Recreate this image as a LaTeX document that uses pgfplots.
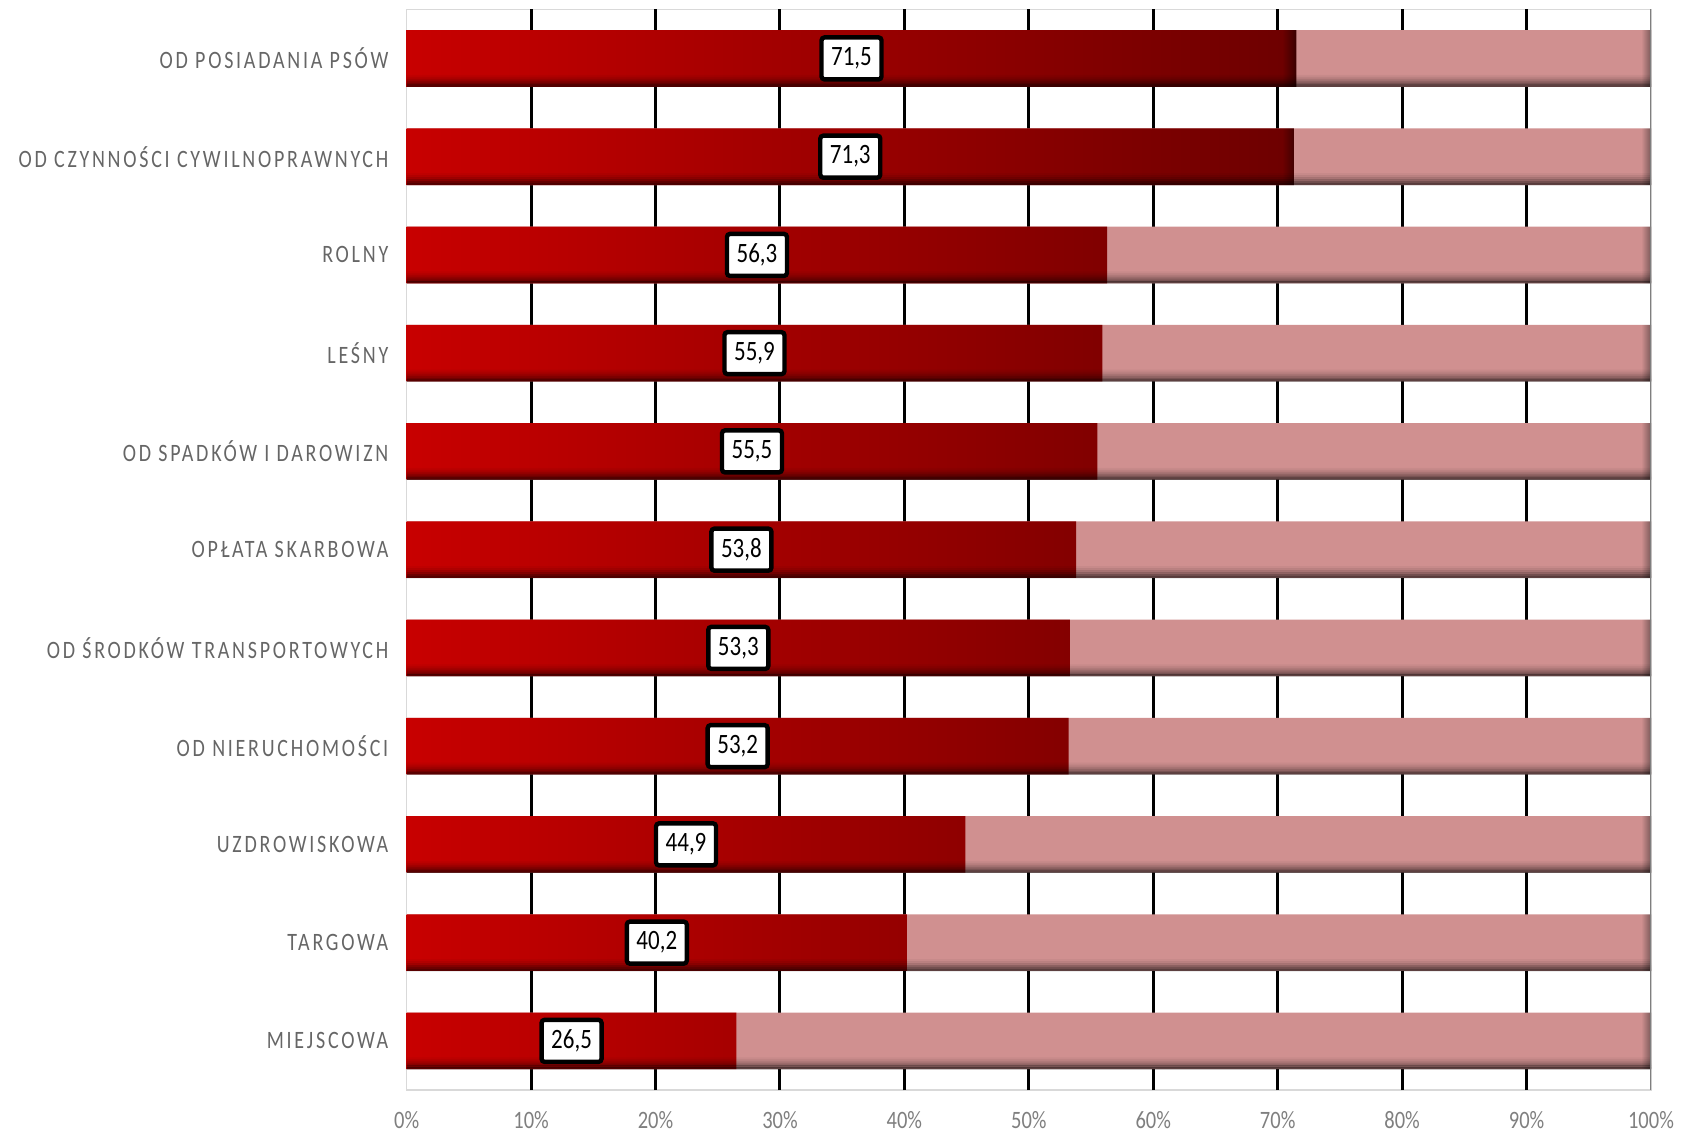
\documentclass[border=0pt]{standalone}
\usepackage{pgfplots}
\pgfplotsset{compat=1.18}
\usepackage{pgfplotstable}
\usepackage{fontspec}
\setmainfont{Carlito}
\newfontfamily\catfont[FakeStretch=0.8,LetterSpace=11]{Carlito}
\newfontfamily\numfont[FakeStretch=0.82]{Carlito}

\definecolor{redA}{HTML}{C80000}
\definecolor{redB}{HTML}{6E0000}
\definecolor{redC}{HTML}{380000}
\definecolor{pinkA}{HTML}{D09090}
\definecolor{pinkB}{HTML}{7A5858}
\definecolor{catgray}{HTML}{666666}
\definecolor{tickgray}{HTML}{7F7F7F}
\definecolor{framegray}{HTML}{D9D9D9}

\pgfdeclarehorizontalshading{redsh}{100bp}{color(0bp)=(redA); color(25bp)=(redA); color(74.2bp)=(redB); color(75bp)=(redC); color(100bp)=(redC)}
\pgfdeclarehorizontalshading{pinksh}{100bp}{color(0bp)=(pinkA); color(25bp)=(pinkA); color(74.6bp)=(pinkA); color(75bp)=(pinkB); color(100bp)=(pinkB)}

\pgfplotstableread{
y v total lbl
0 26.5 100 26,5
1 40.2 100 40,2
2 44.9 100 44,9
3 53.2 100 53,2
4 53.3 100 53,3
5 53.8 100 53,8
6 55.5 100 55,5
7 55.9 100 55,9
8 56.3 100 56,3
9 71.3 100 71,3
10 71.5 100 71,5
}\data

\pgfplotsset{shadowstrip/.style={xbar, bar width=0.021, bar shift=#1, draw=none, fill=black, forget plot}}

\begin{document}
\begin{tikzpicture}
\useasboundingbox (-203.35pt,-23pt) rectangle (637.65pt,545pt);
\begin{axis}[
  at={(0,0)}, anchor=south west, scale only axis,
  width=622.15pt, height=540.35pt,
  xmin=0, xmax=100, ymin=-0.5, ymax=10.5,
  xtick={0,10,...,100},
  xticklabels={0\%,10\%,20\%,30\%,40\%,50\%,60\%,70\%,80\%,90\%,100\%},
  ytick={0,1,...,10},
  yticklabels={MIEJSCOWA,TARGOWA,UZDROWISKOWA,OD NIERUCHOMOŚCI,OD ŚRODKÓW TRANSPORTOWYCH,OPŁATA SKARBOWA,OD SPADKÓW I DAROWIZN,LEŚNY,ROLNY,OD CZYNNOŚCI CYWILNOPRAWNYCH,OD POSIADANIA PSÓW},
  major tick length=0pt,
  axis line style={framegray, line width=0.6pt},
  xticklabel style={font=\numfont\fontsize{12.5}{12.5}\selectfont, text=tickgray, anchor=center, inner sep=0pt, yshift=-15pt},
  yticklabel style={font=\catfont\fontsize{12.5}{13}\selectfont, text=catgray, anchor=east, inner sep=0pt, xshift=-9pt},
  extra x ticks={10,20,...,90},
  extra x tick labels={},
  extra x tick style={xmajorgrids=true, major grid style={black, line width=1.5pt}},
  bar width=0.577,
  every node near coord/.append style={anchor=center, fill=white, draw=black, line width=2.2pt, rounded corners=1.5pt, minimum width=30pt, minimum height=21pt, inner sep=0pt, text=black, font=\numfont\fontsize{14}{14}\selectfont},
]
\addplot[xbar, bar shift=0pt, draw=none, shade, shading=pinksh] table[x=total, y=y]{\data};
\addplot[xbar, bar shift=0pt, draw=none, shade, shading=redsh] table[x=v, y=y]{\data};
\addplot[shadowstrip=-0.2785, fill opacity=0.55] table[x=total, y=y]{\data};
\addplot[shadowstrip=-0.2585, fill opacity=0.42] table[x=total, y=y]{\data};
\addplot[shadowstrip=-0.2385, fill opacity=0.30] table[x=total, y=y]{\data};
\addplot[shadowstrip=-0.2185, fill opacity=0.19] table[x=total, y=y]{\data};
\addplot[shadowstrip=-0.1985, fill opacity=0.10] table[x=total, y=y]{\data};
\addplot[shadowstrip=-0.1785, fill opacity=0.04] table[x=total, y=y]{\data};
\draw[tickgray, line width=1pt] (axis cs:100,-0.5) -- (axis cs:100,10.5);
\addplot[draw=none, mark=none, nodes near coords, point meta=explicit symbolic] table[x expr=\thisrow{v}/2, y=y, meta=lbl]{\data};
\end{axis}
\end{tikzpicture}
\end{document}
